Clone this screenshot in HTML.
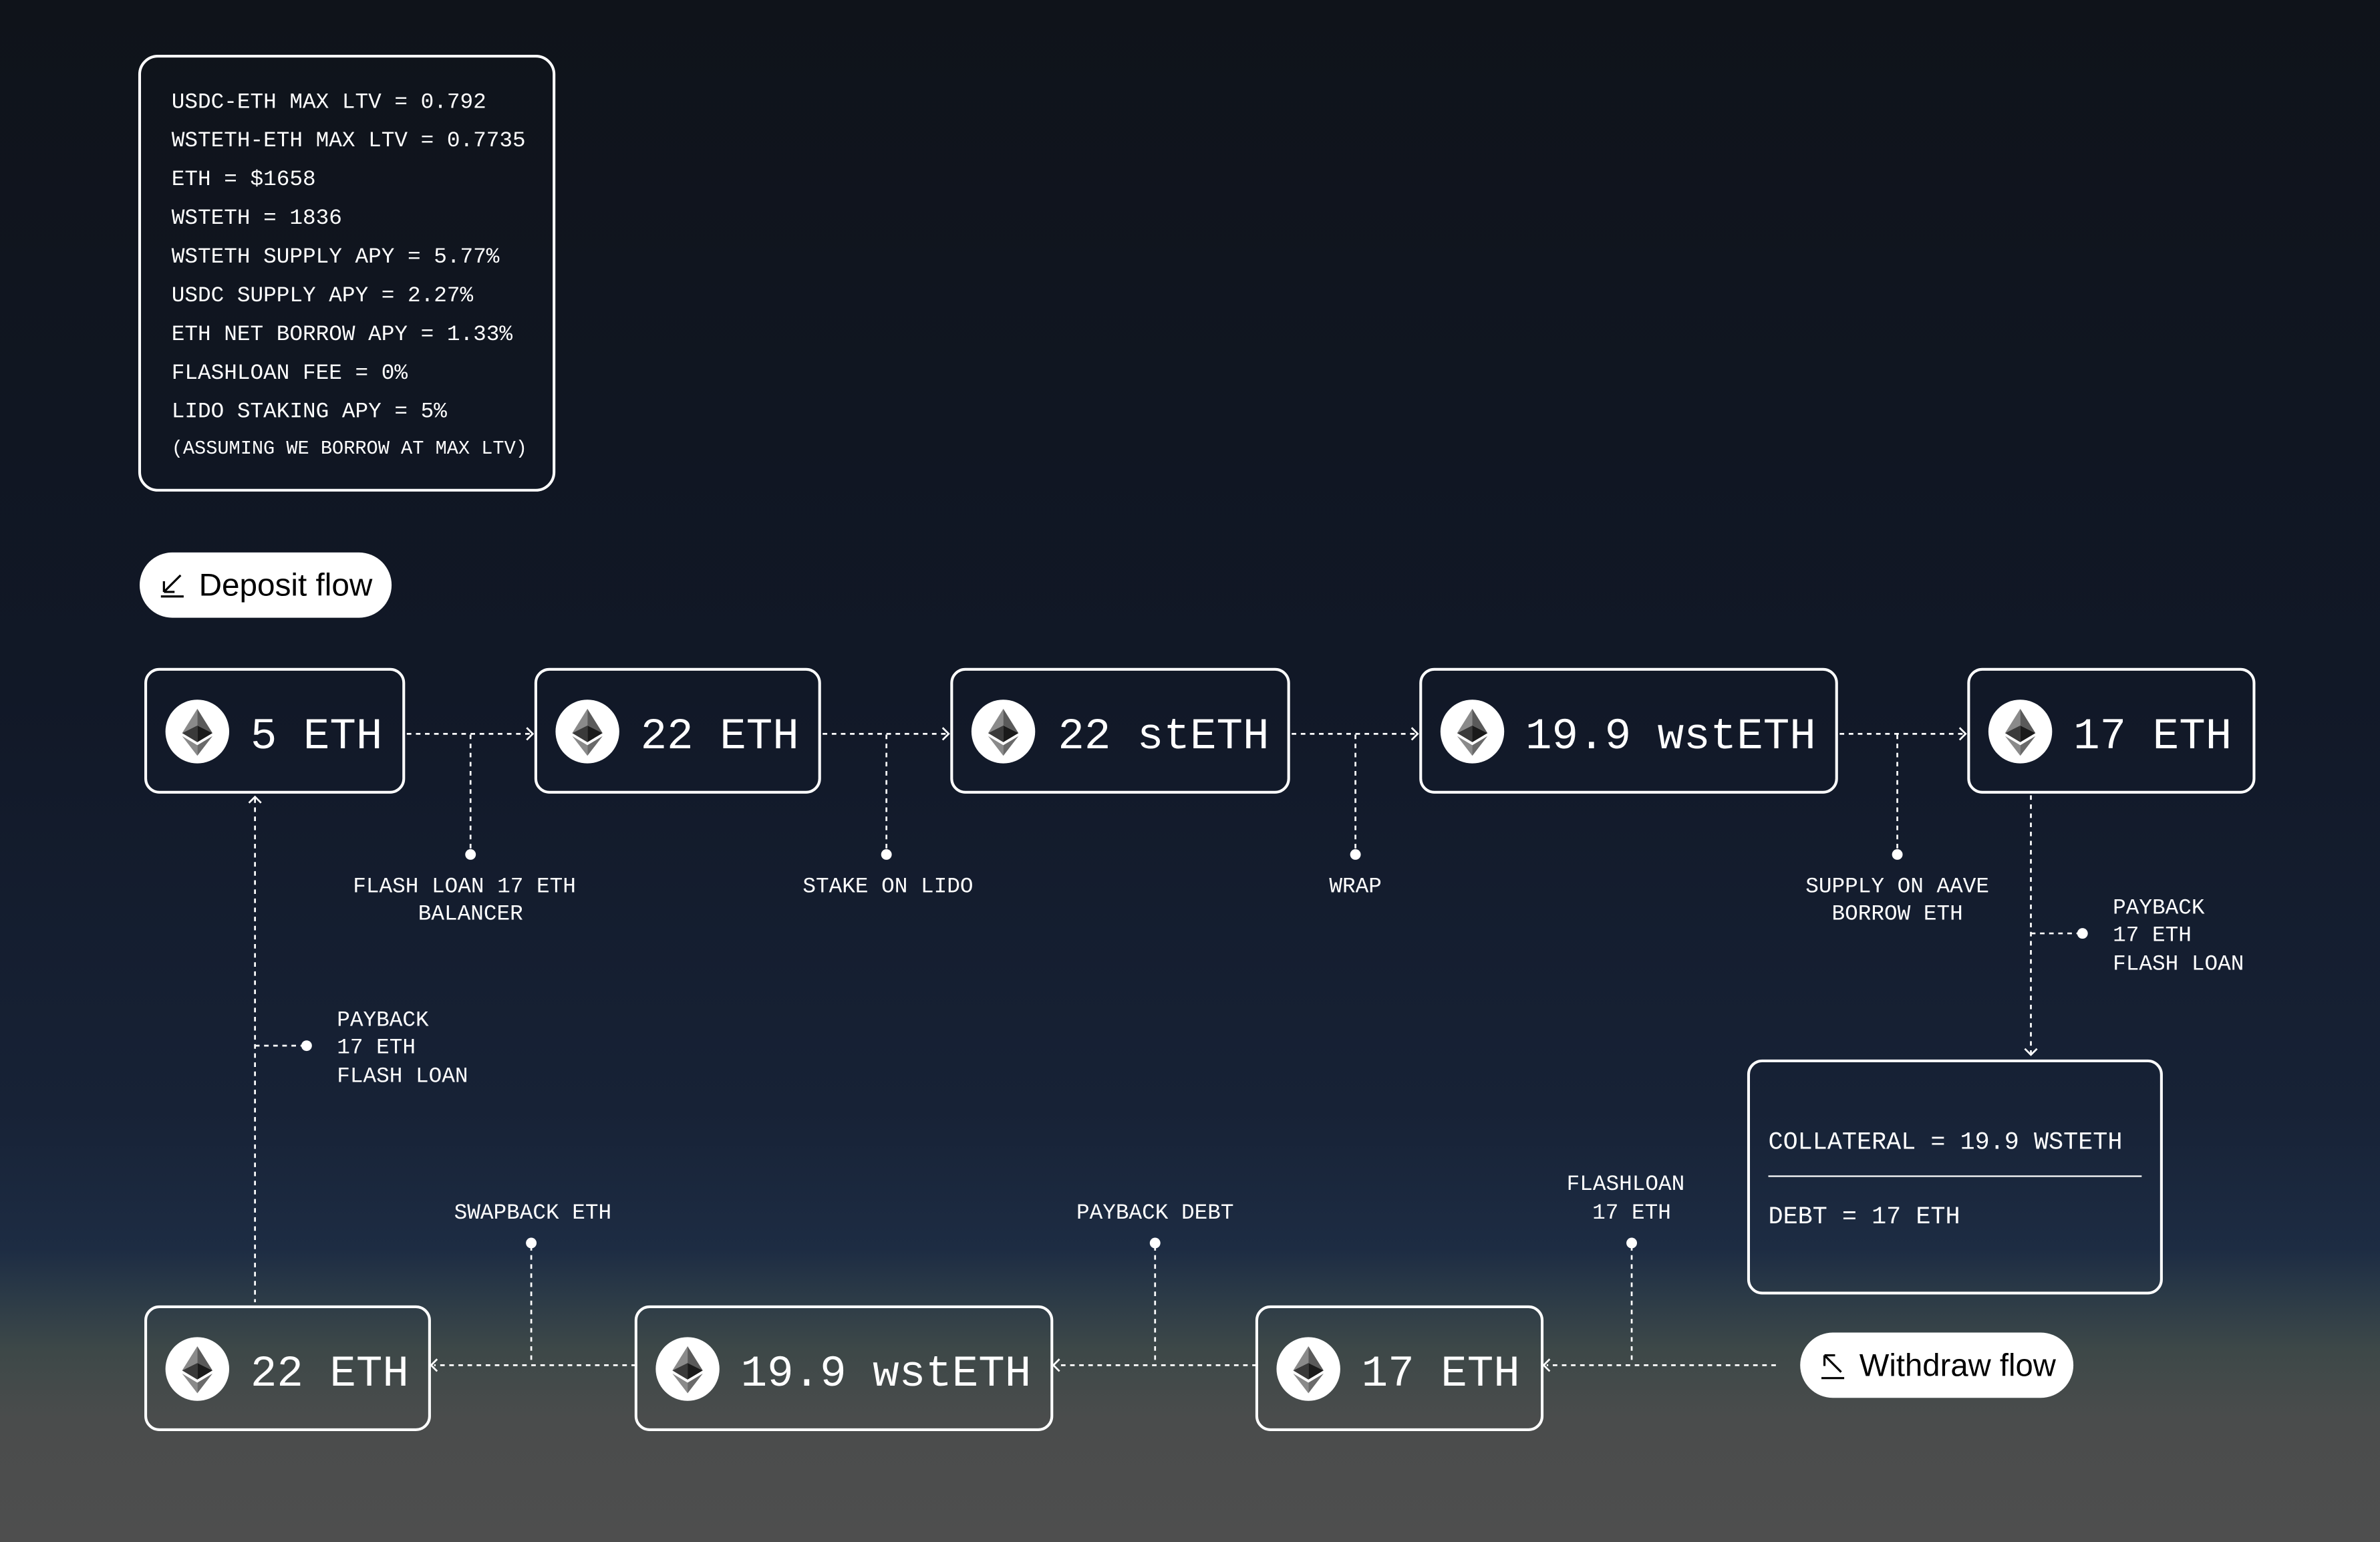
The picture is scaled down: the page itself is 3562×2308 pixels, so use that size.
<!DOCTYPE html>
<html><head><meta charset="utf-8"><style>
html,body{margin:0;padding:0;width:3562px;height:2308px;overflow:hidden;background:#0e1219}
svg{display:block}
.m{font-family:"Liberation Mono",monospace;fill:#fff}
.s{font-family:"Liberation Sans",sans-serif;fill:#000}
.d{stroke:#fff;stroke-width:1.2;stroke-dasharray:3 3;fill:none}
.b{fill:none;stroke:#fff;stroke-width:1.8}
</style></head><body>
<svg width="3562" height="2308" viewBox="0 0 1568 1016" preserveAspectRatio="none" xmlns="http://www.w3.org/2000/svg">
<defs>
<linearGradient id="bg" x1="0" y1="0" x2="0" y2="1">
<stop offset="0" stop-color="#0f131a"/>
<stop offset="0.45" stop-color="#111827"/>
<stop offset="0.72" stop-color="#172236"/>
<stop offset="0.81" stop-color="#1d2c43"/>
<stop offset="0.84" stop-color="#2b3a47"/>
<stop offset="0.875" stop-color="#3d4848"/>
<stop offset="0.92" stop-color="#4a4c4c"/>
<stop offset="1" stop-color="#4e4e4e"/>
</linearGradient>
</defs>
<rect width="1568" height="1016" fill="url(#bg)"/>

<!-- info box -->
<rect x="92" y="37" width="273" height="286" rx="12" class="b"/>
<g class="m" font-size="14.4">
<text x="113" y="71">USDC-ETH MAX LTV = 0.792</text>
<text x="113" y="96.5">WSTETH-ETH MAX LTV = 0.7735</text>
<text x="113" y="122">ETH = $1658</text>
<text x="113" y="147.5">WSTETH = 1836</text>
<text x="113" y="173">WSTETH SUPPLY APY = 5.77%</text>
<text x="113" y="198.5">USDC SUPPLY APY = 2.27%</text>
<text x="113" y="224">ETH NET BORROW APY = 1.33%</text>
<text x="113" y="249.5">FLASHLOAN FEE = 0%</text>
<text x="113" y="275">LIDO STAKING APY = 5%</text>
<text x="113" y="299" font-size="12.6">(ASSUMING WE BORROW AT MAX LTV)</text>
</g>

<!-- deposit pill -->
<rect x="92" y="364" width="166" height="43" rx="21.5" fill="#fff"/>
<path d="M106 393 H121 M108 390 L119 379 M108 390 V383 M108 390 H115" stroke="#000" stroke-width="1.4" fill="none"/>
<text x="131" y="392.5" class="s" font-size="21">Deposit flow</text>

<!-- withdraw pill -->
<rect x="1186" y="878" width="180" height="43" rx="21.5" fill="#fff"/>
<path d="M1200 908 H1215 M1202 893 L1213 904 M1202 893 V900 M1202 893 H1209" stroke="#000" stroke-width="1.4" fill="none"/>
<text x="1225" y="906.5" class="s" font-size="20.8">Withdraw flow</text>

<g>
<rect x="96" y="441" width="170" height="81" rx="9" class="b"/>
<rect x="353" y="441" width="187" height="81" rx="9" class="b"/>
<rect x="627" y="441" width="222" height="81" rx="9" class="b"/>
<rect x="936" y="441" width="274" height="81" rx="9" class="b"/>
<rect x="1297" y="441" width="188" height="81" rx="9" class="b"/>
<rect x="96" y="861" width="187" height="81" rx="9" class="b"/>
<rect x="419" y="861" width="274" height="81" rx="9" class="b"/>
<rect x="828" y="861" width="188" height="81" rx="9" class="b"/>
<rect x="1152" y="699" width="272" height="153" rx="9" class="b"/>
</g>

<g transform="translate(130,482)"><circle r="21" fill="#fff"/><polygon points="0,-15 -10,1 0,-4" fill="#8a8a8a"/><polygon points="0,-15 10,1 0,-4" fill="#5a5a5a"/><polygon points="0,-4 -10,1 0,7" fill="#3a3a3a"/><polygon points="0,-4 10,1 0,7" fill="#1a1a1a"/><polygon points="0,9 -10,3 0,16" fill="#8a8a8a"/><polygon points="0,9 10,3 0,16" fill="#6a6a6a"/></g>
<g transform="translate(387,482)"><circle r="21" fill="#fff"/><polygon points="0,-15 -10,1 0,-4" fill="#8a8a8a"/><polygon points="0,-15 10,1 0,-4" fill="#5a5a5a"/><polygon points="0,-4 -10,1 0,7" fill="#3a3a3a"/><polygon points="0,-4 10,1 0,7" fill="#1a1a1a"/><polygon points="0,9 -10,3 0,16" fill="#8a8a8a"/><polygon points="0,9 10,3 0,16" fill="#6a6a6a"/></g>
<g transform="translate(661,482)"><circle r="21" fill="#fff"/><polygon points="0,-15 -10,1 0,-4" fill="#8a8a8a"/><polygon points="0,-15 10,1 0,-4" fill="#5a5a5a"/><polygon points="0,-4 -10,1 0,7" fill="#3a3a3a"/><polygon points="0,-4 10,1 0,7" fill="#1a1a1a"/><polygon points="0,9 -10,3 0,16" fill="#8a8a8a"/><polygon points="0,9 10,3 0,16" fill="#6a6a6a"/></g>
<g transform="translate(970,482)"><circle r="21" fill="#fff"/><polygon points="0,-15 -10,1 0,-4" fill="#8a8a8a"/><polygon points="0,-15 10,1 0,-4" fill="#5a5a5a"/><polygon points="0,-4 -10,1 0,7" fill="#3a3a3a"/><polygon points="0,-4 10,1 0,7" fill="#1a1a1a"/><polygon points="0,9 -10,3 0,16" fill="#8a8a8a"/><polygon points="0,9 10,3 0,16" fill="#6a6a6a"/></g>
<g transform="translate(1331,482)"><circle r="21" fill="#fff"/><polygon points="0,-15 -10,1 0,-4" fill="#8a8a8a"/><polygon points="0,-15 10,1 0,-4" fill="#5a5a5a"/><polygon points="0,-4 -10,1 0,7" fill="#3a3a3a"/><polygon points="0,-4 10,1 0,7" fill="#1a1a1a"/><polygon points="0,9 -10,3 0,16" fill="#8a8a8a"/><polygon points="0,9 10,3 0,16" fill="#6a6a6a"/></g>
<g transform="translate(130,902)"><circle r="21" fill="#fff"/><polygon points="0,-15 -10,1 0,-4" fill="#8a8a8a"/><polygon points="0,-15 10,1 0,-4" fill="#5a5a5a"/><polygon points="0,-4 -10,1 0,7" fill="#3a3a3a"/><polygon points="0,-4 10,1 0,7" fill="#1a1a1a"/><polygon points="0,9 -10,3 0,16" fill="#8a8a8a"/><polygon points="0,9 10,3 0,16" fill="#6a6a6a"/></g>
<g transform="translate(453,902)"><circle r="21" fill="#fff"/><polygon points="0,-15 -10,1 0,-4" fill="#8a8a8a"/><polygon points="0,-15 10,1 0,-4" fill="#5a5a5a"/><polygon points="0,-4 -10,1 0,7" fill="#3a3a3a"/><polygon points="0,-4 10,1 0,7" fill="#1a1a1a"/><polygon points="0,9 -10,3 0,16" fill="#8a8a8a"/><polygon points="0,9 10,3 0,16" fill="#6a6a6a"/></g>
<g transform="translate(862,902)"><circle r="21" fill="#fff"/><polygon points="0,-15 -10,1 0,-4" fill="#8a8a8a"/><polygon points="0,-15 10,1 0,-4" fill="#5a5a5a"/><polygon points="0,-4 -10,1 0,7" fill="#3a3a3a"/><polygon points="0,-4 10,1 0,7" fill="#1a1a1a"/><polygon points="0,9 -10,3 0,16" fill="#8a8a8a"/><polygon points="0,9 10,3 0,16" fill="#6a6a6a"/></g>

<g class="m" font-size="29">
<text x="165" y="493">5 ETH</text>
<text x="422" y="493">22 ETH</text>
<text x="697" y="493">22 stETH</text>
<text x="1005" y="493">19.9 wstETH</text>
<text x="1366" y="493">17 ETH</text>
<text x="165" y="913">22 ETH</text>
<text x="488" y="913">19.9 wstETH</text>
<text x="897" y="913">17 ETH</text>
</g>
<g class="m" font-size="16.2">
<text x="1165" y="757">COLLATERAL = 19.9 WSTETH</text>
<text x="1165" y="806">DEBT = 17 ETH</text>
</g>
<line x1="1165" y1="775" x2="1411" y2="775" stroke="#fff" stroke-width="1"/>

<g class="d">
<path d="M268 483.5 H350"/><path d="M310 484 V561"/>
<path d="M542 483.5 H624"/><path d="M584 484 V561"/>
<path d="M851 483.5 H933"/><path d="M893 484 V561"/>
<path d="M1212 483.5 H1294"/><path d="M1250 484 V561"/>
<path d="M1338 524 V694"/><path d="M1338 615 H1370"/>
<path d="M168 526 V858"/><path d="M168 689 H200"/>
<path d="M1170 899.5 H1019"/><path d="M1075 821 V899"/>
<path d="M828 899.5 H696"/><path d="M761 821 V899"/>
<path d="M419 899.5 H286"/><path d="M350 821 V899"/>
</g>
<g fill="none" stroke="#fff" stroke-width="1.2">
<path d="M347 479.5 L351 483.5 L347 487.5"/>
<path d="M621 479.5 L625 483.5 L621 487.5"/>
<path d="M930 479.5 L934 483.5 L930 487.5"/>
<path d="M1291 479.5 L1295 483.5 L1291 487.5"/>
<path d="M1334 691 L1338 695 L1342 691"/>
<path d="M164 529 L168 525 L172 529"/>
<path d="M1021 895.5 L1017 899.5 L1021 903.5"/>
<path d="M698 895.5 L694 899.5 L698 903.5"/>
<path d="M288 895.5 L284 899.5 L288 903.5"/>
</g>
<g fill="#fff">
<circle cx="310" cy="563" r="3.5"/><circle cx="584" cy="563" r="3.5"/><circle cx="893" cy="563" r="3.5"/><circle cx="1250" cy="563" r="3.5"/>
<circle cx="1372" cy="615" r="3.5"/><circle cx="202" cy="689" r="3.5"/>
<circle cx="1075" cy="819" r="3.5"/><circle cx="761" cy="819" r="3.5"/><circle cx="350" cy="819" r="3.5"/>
</g>

<g class="m" font-size="14.4" text-anchor="middle">
<text x="306" y="588">FLASH LOAN 17 ETH</text>
<text x="310" y="606">BALANCER</text>
<text x="585" y="588">STAKE ON LIDO</text>
<text x="893" y="588">WRAP</text>
<text x="1250" y="588">SUPPLY ON AAVE</text>
<text x="1250" y="606">BORROW ETH</text>
<text x="1071" y="784">FLASHLOAN</text>
<text x="1075" y="803">17 ETH</text>
<text x="761" y="803">PAYBACK DEBT</text>
<text x="351" y="803">SWAPBACK ETH</text>
</g>
<g class="m" font-size="14.4">
<text x="1392" y="602">PAYBACK</text>
<text x="1392" y="620">17 ETH</text>
<text x="1392" y="639">FLASH LOAN</text>
<text x="222" y="676">PAYBACK</text>
<text x="222" y="694">17 ETH</text>
<text x="222" y="713">FLASH LOAN</text>
</g>
</svg>
</body></html>
